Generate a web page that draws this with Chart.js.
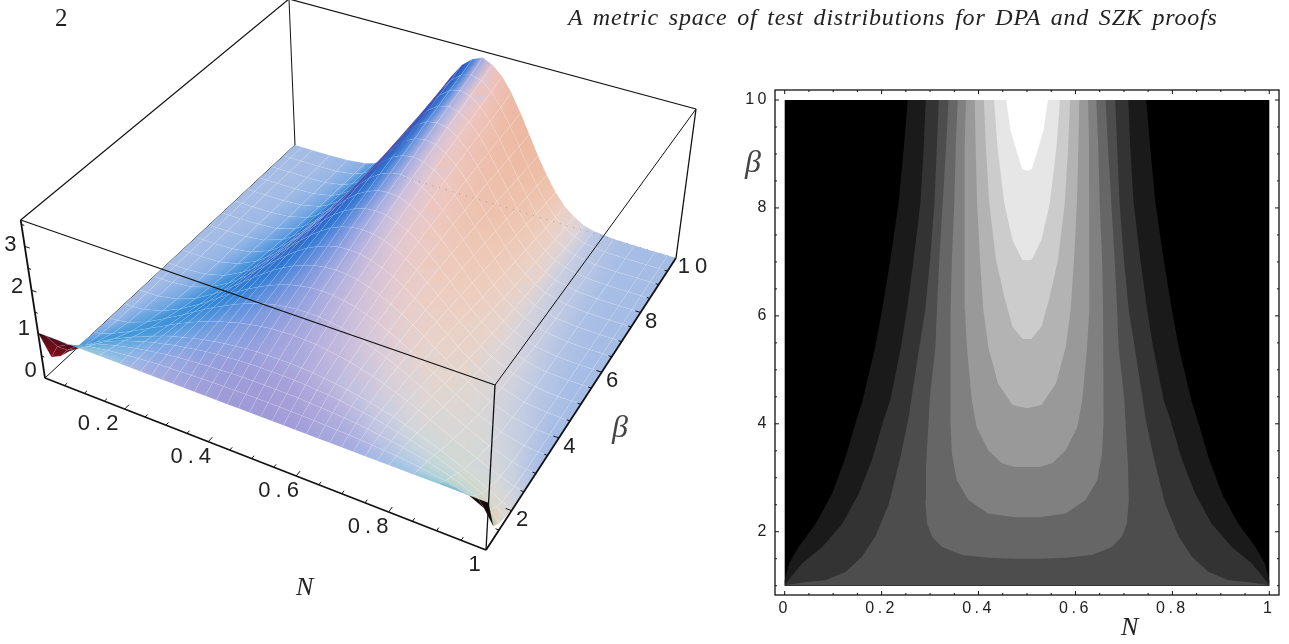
<!DOCTYPE html>
<html>
<head>
<meta charset="utf-8">
<script src="https://cdn.jsdelivr.net/npm/chart.js@4"></script>
<style>
html, body { margin: 0; padding: 0; background: #fff; width: 1289px; height: 644px; overflow: hidden; }
#surface-wrap { position: absolute; left: 0; top: 0; width: 735px; height: 644px; }
#contour-wrap { position: absolute; left: 735px; top: 60px; width: 554px; height: 584px; }
.txt { position: absolute; font-family: "Liberation Serif", serif; color: #222; white-space: nowrap; line-height: 1; }
.ital { font-style: italic; }
</style>
</head>
<body>
<div id="surface-wrap"><canvas id="surfaceChart" width="735" height="644"></canvas></div>
<div id="contour-wrap"><canvas id="contourChart" width="554" height="584"></canvas></div>
<div class="txt" style="left:55px;top:5px;font-size:25px;">2</div>
<div class="txt ital" style="left:568px;top:5px;font-size:24px;letter-spacing:0.8px;word-spacing:3px;">A metric space of test distributions for DPA and SZK proofs</div>
<div class="txt ital" style="left:296px;top:574px;font-size:26px;">N</div>
<div class="txt ital" style="left:612px;top:410px;font-size:32px;color:#444;">β</div>
<div class="txt ital" style="left:1121px;top:614px;font-size:26px;">N</div>
<div class="txt ital" style="left:745px;top:145px;font-size:32px;color:#444;">β</div>
<script>
// surface values. columns are N up to 0.5, the other half is mirrored
const surfaceN = [0, 0.02, 0.05, 0.1, 0.15, 0.2, 0.225, 0.25, 0.275, 0.3, 0.325, 0.35, 0.375, 0.4, 0.425, 0.45, 0.475, 0.5];
const surfaceBeta = [1, 1.25, 1.5, 1.75, 2, 2.5, 3, 3.5, 4, 4.5, 5, 5.5, 6, 6.5, 7, 7.5, 8, 8.5, 9, 9.5, 10];
const surfaceZ = [
    [1.03, 1.03, 1.03, 1.03, 1.03, 1.03, 1.03, 1.03, 1.03, 1.03, 1.03, 1.03, 1.03, 1.03, 1.03, 1.03, 1.03, 1.03],
    [0.3, 0.61, 0.76, 0.89, 0.97, 1.03, 1.05, 1.07, 1.09, 1.1, 1.11, 1.12, 1.13, 1.14, 1.14, 1.15, 1.15, 1.15],
    [0.15, 0.35, 0.55, 0.76, 0.9, 1.01, 1.05, 1.09, 1.13, 1.16, 1.18, 1.2, 1.22, 1.23, 1.25, 1.25, 1.26, 1.26],
    [0.08, 0.2, 0.39, 0.64, 0.83, 0.98, 1.05, 1.1, 1.16, 1.2, 1.24, 1.28, 1.31, 1.33, 1.35, 1.36, 1.37, 1.37],
    [0.03, 0.11, 0.28, 0.53, 0.74, 0.93, 1.02, 1.1, 1.16, 1.23, 1.28, 1.33, 1.37, 1.4, 1.43, 1.45, 1.46, 1.46],
    [0, 0.04, 0.14, 0.35, 0.59, 0.83, 0.95, 1.06, 1.16, 1.26, 1.34, 1.41, 1.48, 1.53, 1.57, 1.61, 1.62, 1.63],
    [0, 0.01, 0.06, 0.23, 0.47, 0.73, 0.87, 1.01, 1.14, 1.26, 1.38, 1.48, 1.57, 1.65, 1.71, 1.75, 1.78, 1.79],
    [0, 0, 0.03, 0.15, 0.36, 0.63, 0.78, 0.94, 1.1, 1.25, 1.39, 1.52, 1.64, 1.74, 1.82, 1.88, 1.92, 1.93],
    [0, 0, 0.01, 0.1, 0.27, 0.54, 0.7, 0.87, 1.05, 1.23, 1.4, 1.56, 1.71, 1.83, 1.93, 2.01, 2.05, 2.07],
    [0, 0, 0.01, 0.06, 0.21, 0.46, 0.62, 0.8, 1, 1.2, 1.39, 1.58, 1.76, 1.91, 2.03, 2.12, 2.18, 2.2],
    [0, 0, 0, 0.04, 0.16, 0.39, 0.55, 0.74, 0.94, 1.16, 1.38, 1.6, 1.8, 1.98, 2.13, 2.24, 2.31, 2.33],
    [0, 0, 0, 0.02, 0.12, 0.33, 0.49, 0.67, 0.88, 1.12, 1.36, 1.6, 1.83, 2.04, 2.21, 2.34, 2.42, 2.45],
    [0, 0, 0, 0.02, 0.09, 0.27, 0.42, 0.61, 0.82, 1.07, 1.33, 1.6, 1.85, 2.09, 2.29, 2.43, 2.53, 2.56],
    [0, 0, 0, 0.01, 0.07, 0.23, 0.37, 0.55, 0.77, 1.02, 1.3, 1.59, 1.87, 2.13, 2.36, 2.53, 2.63, 2.67],
    [0, 0, 0, 0.01, 0.05, 0.19, 0.32, 0.49, 0.71, 0.98, 1.27, 1.58, 1.89, 2.18, 2.43, 2.62, 2.74, 2.78],
    [0, 0, 0, 0, 0.04, 0.16, 0.28, 0.45, 0.66, 0.93, 1.23, 1.57, 1.9, 2.22, 2.49, 2.71, 2.84, 2.89],
    [0, 0, 0, 0, 0.03, 0.13, 0.24, 0.4, 0.62, 0.89, 1.2, 1.55, 1.91, 2.25, 2.56, 2.8, 2.95, 3],
    [0, 0, 0, 0, 0.02, 0.11, 0.21, 0.36, 0.57, 0.84, 1.16, 1.53, 1.91, 2.28, 2.62, 2.87, 3.04, 3.1],
    [0, 0, 0, 0, 0.01, 0.09, 0.18, 0.32, 0.52, 0.79, 1.13, 1.5, 1.91, 2.31, 2.67, 2.95, 3.14, 3.2],
    [0, 0, 0, 0, 0.01, 0.07, 0.16, 0.29, 0.48, 0.75, 1.09, 1.48, 1.91, 2.33, 2.72, 3.03, 3.23, 3.3],
    [0, 0, 0, 0, 0.01, 0.06, 0.13, 0.26, 0.44, 0.71, 1.06, 1.46, 1.91, 2.37, 2.79, 3.13, 3.34, 3.45]
];

const nTickLabels = [0.2, 0.4, 0.6, 0.8, 1];
const betaTickLabels = [2, 4, 6, 8, 10];
const zTickLabels = [0, 1, 2, 3];
const nMinorTicks = [0.05, 0.1, 0.15, 0.2, 0.25, 0.3, 0.35, 0.4, 0.45, 0.5, 0.55, 0.6, 0.65, 0.7, 0.75, 0.8, 0.85, 0.9, 0.95];
const betaMinorTicks = [1.5, 2, 2.5, 3, 3.5, 4, 4.5, 5, 5.5, 6, 6.5, 7, 7.5, 8, 8.5, 9, 9.5];
const zMinorTicks = [0.5, 1, 1.5, 2, 2.5, 3, 3.5];

// contour boundaries, left half only, from bottom to top
const level1N = [0, 0, 0.002, 0.009, 0.029, 0.064, 0.098, 0.126, 0.146, 0.161, 0.187, 0.201, 0.218, 0.235, 0.246, 0.254];
const level1B = [1, 1.1, 1.17, 1.41, 1.72, 2.15, 2.71, 3.39, 4.01, 4.44, 5.43, 6.11, 7.04, 8.09, 9.14, 10];
const level2N = [0, 0.002, 0.036, 0.078, 0.119, 0.153, 0.18, 0.204, 0.218, 0.24, 0.252, 0.266, 0.28, 0.287, 0.291];
const level2B = [1, 1.04, 1.41, 1.72, 2.15, 2.71, 3.33, 4.07, 4.44, 5.43, 6.11, 7.04, 8.09, 9.14, 10];
const level3N = [0, 0.036, 0.084, 0.126, 0.16, 0.187, 0.215, 0.239, 0.256, 0.261, 0.278, 0.29, 0.3, 0.309, 0.314, 0.318];
const level3B = [1.01, 1.06, 1.1, 1.26, 1.54, 1.91, 2.52, 3.39, 4.13, 4.44, 5.43, 6.11, 7.04, 8.09, 9.14, 10];
const level4N = [0.5, 0.475, 0.42, 0.366, 0.324, 0.304, 0.294, 0.29, 0.2915, 0.297, 0.299, 0.311, 0.314, 0.319, 0.326, 0.333, 0.338];
const level4B = [1.5, 1.5, 1.52, 1.57, 1.72, 1.91, 2.15, 2.59, 3.2, 4.07, 4.44, 5.43, 6.11, 7.04, 8.09, 9.14, 10];
const level5N = [0.5, 0.475, 0.42, 0.379, 0.355, 0.345, 0.342, 0.342, 0.342, 0.343, 0.345, 0.35, 0.353, 0.357];
const level5B = [2.27, 2.27, 2.34, 2.59, 2.96, 3.45, 4.07, 4.44, 5.43, 6.11, 7.04, 8.09, 9.14, 10];
const level6N = [0.5, 0.475, 0.448, 0.42, 0.396, 0.386, 0.376, 0.372, 0.371, 0.371, 0.372, 0.374];
const level6B = [3.2, 3.2, 3.27, 3.51, 3.94, 4.44, 5.43, 6.11, 7.04, 8.09, 9.14, 10];
const level7N = [0.5, 0.47, 0.44, 0.42, 0.41, 0.403, 0.397, 0.394, 0.392];
const level7B = [4.29, 4.35, 4.75, 5.43, 6.11, 7.04, 8.09, 9.14, 10];
const level8N = [0.5, 0.491, 0.47, 0.453, 0.436, 0.422, 0.415, 0.411];
const level8B = [5.57, 5.57, 5.8, 6.36, 7.04, 8.09, 9.14, 10];
const level9N = [0.5, 0.49, 0.47, 0.453, 0.439, 0.432];
const level9B = [7.03, 7.04, 7.41, 8.09, 9.14, 10];
const level10N = [0.5, 0.49, 0.479, 0.466, 0.457];
const level10B = [8.69, 8.72, 9.04, 9.44, 10];
const levelColors = ['#1a1a1a', '#333333', '#4d4d4d', '#666666', '#808080', '#999999', '#b3b3b3', '#cccccc', '#e6e6e6', '#ffffff'];

const contourXTicks = [0, 0.2, 0.4, 0.6, 0.8, 1];
const contourYTicks = [2, 4, 6, 8, 10];

// ---- 3D box projection ----
const Z_TOP = 3.6;
const baseQuad = [[45, 378], [486, 550], [676, 258], [295, 145]];
const topQuad = [[20.7, 220], [495, 385], [696, 109], [289, -1]];

function quadMap(q) {
    const [p0, p1, p2, p3] = q;
    const dx1 = p1[0] - p2[0], dx2 = p3[0] - p2[0], sx = p0[0] - p1[0] + p2[0] - p3[0];
    const dy1 = p1[1] - p2[1], dy2 = p3[1] - p2[1], sy = p0[1] - p1[1] + p2[1] - p3[1];
    const den = dx1 * dy2 - dx2 * dy1;
    const g = (sx * dy2 - dx2 * sy) / den;
    const h = (dx1 * sy - sx * dy1) / den;
    const a = p1[0] - p0[0] + g * p1[0], b = p3[0] - p0[0] + h * p3[0];
    const d = p1[1] - p0[1] + g * p1[1], e = p3[1] - p0[1] + h * p3[1];
    return (u, v) => {
        const w = g * u + h * v + 1;
        return [(a * u + b * v + p0[0]) / w, (d * u + e * v + p0[1]) / w];
    };
}
const baseMap = quadMap(baseQuad);
const topMap = quadMap(topQuad);

function project(n, beta, z) {
    const v = (beta - 1) / 9;
    const p0 = baseMap(n, v);
    const p1 = topMap(n, v);
    const t = z / Z_TOP;
    return { x: p0[0] + (p1[0] - p0[0]) * t, y: p0[1] + (p1[1] - p0[1]) * t };
}

// ---- full table (mirror the N columns) ----
const allN = surfaceN.concat(surfaceN.slice(0, -1).reverse().map(n => 1 - n));
const allZ = surfaceZ.map(row => row.concat(row.slice(0, -1).reverse()));

// ---- colouring: three coloured lights, like the usual Mathematica default ----
const THETA = 28 * Math.PI / 180, PHI = 50 * Math.PI / 180;
const eN = [Math.cos(THETA), -Math.sin(THETA) * Math.sin(PHI), Math.sin(THETA) * Math.cos(PHI)];
const eB = [Math.sin(THETA), Math.cos(THETA) * Math.sin(PHI), -Math.cos(THETA) * Math.cos(PHI)];
const eZ = [0, Math.cos(PHI), Math.sin(PHI)];

function vertexColor(j, i, flipped) {
    const iA = Math.max(i - 1, 0), iB = Math.min(i + 1, allN.length - 1);
    const jA = Math.max(j - 1, 0), jB = Math.min(j + 1, surfaceBeta.length - 1);
    const k = 0.4 / Z_TOP;
    const dN = (allZ[j][iB] - allZ[j][iA]) * k / (allN[iB] - allN[iA]);
    const dB = (allZ[jB][i] - allZ[jA][i]) * k / ((surfaceBeta[jB] - surfaceBeta[jA]) / 9);
    const len = Math.sqrt(dN * dN + dB * dB + 1);
    const sign = flipped ? -1 : 1;
    const n = [0, 1, 2].map(c => sign * (-dN * eN[c] - dB * eB[c] + eZ[c]) / len);
    const r = Math.max(0, (n[0] + n[2]) / Math.SQRT2);
    const g = Math.max(0, (n[0] + n[1] + n[2]) / Math.sqrt(3));
    const b = Math.max(0, (n[1] + n[2]) / Math.SQRT2);
    if (flipped) {
        if (allN[i] > 0.5) return [0.1, 0.03, 0.03];
        return [0.3 + r * 0.6, 0.05 + g * 0.5, 0.1 + b * 0.3];
    }
    return [
        Math.min(0.93, 0.19 + 0.95 * r - 0.2 * r * r),
        Math.min(1, 0.25 + 0.6 * g),
        Math.min(1, 0.45 + 0.45 * b)
    ];
}
const css = c => `rgb(${Math.round(c[0] * 255)},${Math.round(c[1] * 255)},${Math.round(c[2] * 255)})`;
const area = p => p.reduce((s, q, i) => { const r = p[(i + 1) % p.length]; return s + q.x * r.y - r.x * q.y; }, 0);

const gradCtx = document.createElement('canvas').getContext('2d');

// linear gradient that passes through the four corner colours, along the
// direction in which the brightness of the cell changes most
function cellGradient(pts, col) {
    const lum = col.map(c => 0.3 * c[0] + 0.6 * c[1] + 0.1 * c[2]);
    const cx = pts.reduce((s, p) => s + p.x, 0) / 4, cy = pts.reduce((s, p) => s + p.y, 0) / 4;
    const lm = lum.reduce((s, v) => s + v, 0) / 4;
    let xx = 0, xy = 0, yy = 0, xl = 0, yl = 0;
    pts.forEach((p, i) => {
        const dx = p.x - cx, dy = p.y - cy, dl = lum[i] - lm;
        xx += dx * dx; xy += dx * dy; yy += dy * dy; xl += dx * dl; yl += dy * dl;
    });
    const det = xx * yy - xy * xy;
    if (Math.abs(det) < 1e-3) return css(col[0]);
    let gx = (yy * xl - xy * yl) / det, gy = (xx * yl - xy * xl) / det;
    const len = Math.hypot(gx, gy);
    if (len < 1e-6) return css(col[0]);
    gx /= len; gy /= len;
    const order = pts.map((p, i) => ({ t: (p.x - cx) * gx + (p.y - cy) * gy, c: col[i] })).sort((a, b) => a.t - b.t);
    const t0 = order[0].t, t1 = order[3].t;
    if (t1 - t0 < 1e-3) return css(col[0]);
    const grad = gradCtx.createLinearGradient(cx + gx * t0, cy + gy * t0, cx + gx * t1, cy + gy * t1);
    order.forEach(o => grad.addColorStop((o.t - t0) / (t1 - t0), css(o.c)));
    return grad;
}

function cellDataset(j, i) {
    const corners = [[j, i], [j, i + 1], [j + 1, i + 1], [j + 1, i]];
    const pts = corners.map(c => project(allN[c[1]], surfaceBeta[c[0]], allZ[c[0]][c[1]]));
    const flat = corners.map(c => project(allN[c[1]], surfaceBeta[c[0]], 0));
    const flipped = area(pts) * area(flat) < 0;
    const col = corners.map(c => vertexColor(c[0], c[1], flipped));
    return {
        data: pts.concat([pts[0]]),
        showLine: true, fill: 'shape', tension: 0, pointRadius: 0,
        backgroundColor: cellGradient(pts, col), borderColor: 'rgba(255,255,255,0.12)', borderWidth: 0.6
    };
}

function edge(a, b, width) {
    return {
        data: [project(a[0], a[1], a[2]), project(b[0], b[1], b[2])],
        showLine: true, fill: false, pointRadius: 0, borderColor: '#111', borderWidth: width
    };
}

// first dataset ends up on top, so front things go first
const surfaceSets = [];
surfaceSets.push(edge([0, 1, Z_TOP], [1, 1, Z_TOP], 1.3));
surfaceSets.push(edge([1, 1, Z_TOP], [1, 10, Z_TOP], 1));
surfaceSets.push(edge([1, 1, 0], [1, 1, Z_TOP], 1.3));
surfaceSets.push(edge([0, 1, 0], [1, 1, 0], 1.8));
surfaceSets.push(edge([1, 1, 0], [1, 10, 0], 1.8));
surfaceSets.push(edge([0, 1, 0], [0, 1, Z_TOP], 1.8));

// tick marks, gaps between them are nulls
const tickPts = [];
nMinorTicks.forEach(n => { tickPts.push(project(n, 1, 0), project(n, Math.round(n * 20) % 4 === 0 ? 1.13 : 1.08, 0), { x: null, y: null }); });
betaMinorTicks.forEach(b => { tickPts.push(project(1, b, 0), project(b % 2 === 0 ? 0.988 : 0.993, b, 0), { x: null, y: null }); });
zMinorTicks.forEach(z => { tickPts.push(project(0, 1, z), project(Number.isInteger(z) ? 0.012 : 0.007, 1, z), { x: null, y: null }); });
surfaceSets.push({ data: tickPts, showLine: true, fill: false, pointRadius: 0, borderColor: '#111', borderWidth: 1, spanGaps: false });

// faint dots where the back edge touches the flat part of the surface
surfaceSets.push({
    data: [project(0.2, 10, 0), project(1, 10, 0)],
    showLine: true, fill: false, pointRadius: 0, borderColor: 'rgba(90,90,110,0.45)', borderWidth: 1, borderDash: [1, 6]
});

for (let j = 0; j < surfaceBeta.length - 1; j++) {
    for (let i = allN.length - 2; i >= 0; i--) {
        surfaceSets.push(cellDataset(j, i));
    }
}
surfaceSets.push(edge([1, 10, Z_TOP], [1, 10, 0], 1.3));
surfaceSets.push(edge([0, 10, Z_TOP], [1, 10, Z_TOP], 1.2));
surfaceSets.push(edge([0, 1, Z_TOP], [0, 10, Z_TOP], 1.2));
surfaceSets.push(edge([0, 10, 0], [0, 10, Z_TOP], 1));
surfaceSets.push(edge([0, 1, 0], [0, 10, 0], 1));

const nLabelDx = [-24, -15, -15, -18, -9];

const boxLabels = {
    id: 'boxLabels',
    afterDraw(chart) {
        const ctx = chart.ctx;
        ctx.save();
        ctx.font = '22px "Liberation Sans"';
        ctx.letterSpacing = '5px';
        ctx.fillStyle = '#222';
        ctx.textAlign = 'center';
        ctx.textBaseline = 'middle';
        nTickLabels.forEach((n, idx) => {
            const p = project(n, 1, 0);
            ctx.fillText(n === 1 ? '1' : n.toFixed(1), p.x + nLabelDx[idx], p.y + 15);
        });
        betaTickLabels.forEach(b => {
            const p = project(1, b, 0);
            ctx.fillText(String(b), p.x + (b === 10 ? 19 : 13), p.y + 9);
        });
        zTickLabels.forEach(z => {
            const p = project(0, 1, z);
            ctx.fillText(String(z), p.x - 12, p.y - 7 + z * 2);
        });
        ctx.restore();
    }
};

new Chart(document.getElementById('surfaceChart').getContext('2d'), {
    type: 'scatter',
    data: { datasets: surfaceSets },
    options: {
        responsive: false, animation: false, maintainAspectRatio: false,
        layout: { padding: 0 },
        plugins: { legend: { display: false }, tooltip: { enabled: false } },
        scales: {
            x: { type: 'linear', display: false, min: 0, max: 735 },
            y: { type: 'linear', display: false, min: 0, max: 644, reverse: true }
        }
    },
    plugins: [boxLabels]
});

// ---- contour panel ----
function levelDataset(ns, bs, color) {
    const left = ns.map((n, i) => ({ x: n, y: bs[i] }));
    const right = left.slice().reverse().map(p => ({ x: 1 - p.x, y: p.y }));
    return {
        data: left.concat(right),
        showLine: true, fill: 'shape', tension: 0, pointRadius: 0,
        backgroundColor: color, borderWidth: 0
    };
}
const contourSets = [
    levelDataset(level10N, level10B, levelColors[9]),
    levelDataset(level9N, level9B, levelColors[8]),
    levelDataset(level8N, level8B, levelColors[7]),
    levelDataset(level7N, level7B, levelColors[6]),
    levelDataset(level6N, level6B, levelColors[5]),
    levelDataset(level5N, level5B, levelColors[4]),
    levelDataset(level4N, level4B, levelColors[3]),
    levelDataset(level3N, level3B, levelColors[2]),
    levelDataset(level2N, level2B, levelColors[1]),
    levelDataset(level1N, level1B, levelColors[0]),
    levelDataset([0, 0], [1, 10], '#000000')
];

const frameTicks = {
    id: 'frameTicks',
    beforeDraw(chart) {
        chart.ctx.letterSpacing = '3.5px';
    },
    afterDraw(chart) {
        const { ctx, chartArea: a, scales: { x, y } } = chart;
        ctx.save();
        ctx.strokeStyle = '#111';
        ctx.lineWidth = 1;
        ctx.beginPath();
        for (let i = 0; i <= 20; i++) {
            const px = x.getPixelForValue(i * 0.05);
            const len = i % 4 === 0 ? 4 : 2;
            ctx.moveTo(px, a.top); ctx.lineTo(px, a.top + len);
            ctx.moveTo(px, a.bottom); ctx.lineTo(px, a.bottom - len);
        }
        for (let i = 0; i <= 18; i++) {
            const py = y.getPixelForValue(1 + i * 0.5);
            const len = (i + 2) % 4 === 0 ? 4 : 2;
            ctx.moveTo(a.left, py); ctx.lineTo(a.left + len, py);
            ctx.moveTo(a.right, py); ctx.lineTo(a.right - len, py);
        }
        ctx.stroke();
        ctx.lineWidth = 1.3;
        ctx.strokeRect(a.left, a.top, a.right - a.left, a.bottom - a.top);
        ctx.restore();
    }
};

new Chart(document.getElementById('contourChart').getContext('2d'), {
    type: 'scatter',
    data: { datasets: contourSets },
    options: {
        responsive: false, animation: false, maintainAspectRatio: false,
        layout: { padding: { top: 30, right: 10, bottom: 0, left: 0 } },
        plugins: { legend: { display: false }, tooltip: { enabled: false } },
        scales: {
            x: {
                type: 'linear', min: -0.02, max: 1.02,
                grid: { display: false, drawTicks: false }, border: { display: false },
                afterBuildTicks: s => { s.ticks = contourXTicks.map(v => ({ value: v })); },
                afterFit: s => { s.height = 49; },
                ticks: {
                    autoSkip: false, maxRotation: 0, padding: 4, color: '#222',
                    font: { family: '"Liberation Sans"', size: 16 },
                    callback: v => (v === 0 || v === 1) ? String(v) : v.toFixed(1)
                }
            },
            y: {
                type: 'linear', min: 0.828, max: 10.185,
                grid: { display: false, drawTicks: false }, border: { display: false },
                afterBuildTicks: s => { s.ticks = contourYTicks.map(v => ({ value: v })); },
                afterFit: s => { s.width = 40; },
                ticks: {
                    autoSkip: false, padding: 5, color: '#222',
                    font: { family: '"Liberation Sans"', size: 16 },
                    callback: v => String(v)
                }
            }
        }
    },
    plugins: [frameTicks]
});
</script>
</body>
</html>
